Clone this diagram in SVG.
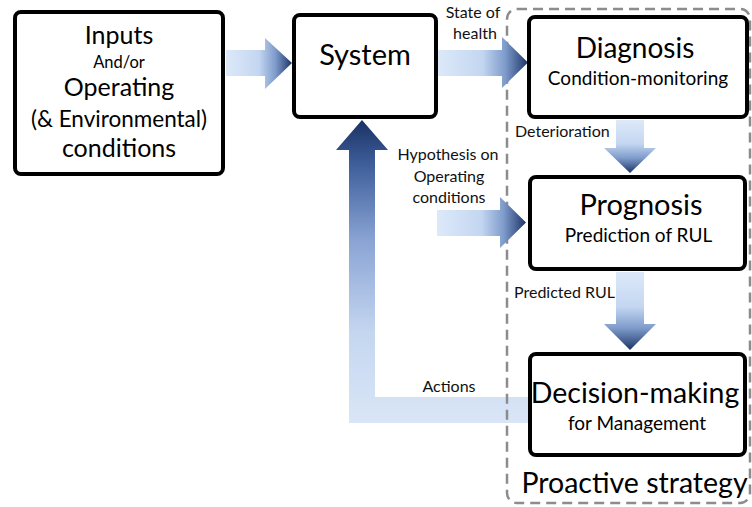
<svg xmlns="http://www.w3.org/2000/svg" width="752" height="507" viewBox="0 0 752 507">
<style>
.box{fill:#fff;stroke:#000;stroke-width:4}
.t{font-family:Lato,"Liberation Sans",sans-serif;fill:#000;text-anchor:middle}
.lbl{font-family:Lato,"Liberation Sans",sans-serif;fill:#111;font-size:16px}
.frame{fill:none;stroke:#8c8c8c;stroke-width:2.5;stroke-dasharray:10 6}
</style>
<defs>
<linearGradient id="gh" x1="0" y1="0" x2="1" y2="0">
<stop offset="0" stop-color="#dde9f9"/>
<stop offset="0.5" stop-color="#c3d6f1"/>
<stop offset="0.75" stop-color="#7e9bcb"/>
<stop offset="1" stop-color="#1c3466"/>
</linearGradient>
<linearGradient id="gv" x1="0" y1="0" x2="0" y2="1">
<stop offset="0" stop-color="#dde9f9"/>
<stop offset="0.45" stop-color="#c3d6f1"/>
<stop offset="0.72" stop-color="#7e9bcb"/>
<stop offset="1" stop-color="#1c3466"/>
</linearGradient>
<linearGradient id="gup" gradientUnits="userSpaceOnUse" x1="0" y1="423" x2="0" y2="120">
<stop offset="0" stop-color="#dae6f7"/>
<stop offset="0.3" stop-color="#c4d6f0"/>
<stop offset="0.6" stop-color="#8aa4d4"/>
<stop offset="0.85" stop-color="#3f5f9c"/>
<stop offset="1" stop-color="#1a3263"/>
</linearGradient>
</defs>

<g id="connectors">
<polygon id="c-actions" fill="url(#gup)" points="529,397 375,397 375,150 388,150 362,120 336,150 349,150 349,423 529,423"/>
</g>

<g id="proactive">
<rect class="frame" x="507" y="9" width="243" height="494" rx="10"/>
<text class="t" x="634.5" y="493" font-size="28.5">Proactive strategy</text>
</g>

<g id="connectors2">
<polygon id="c-in-sys" fill="url(#gh)" points="226,50 265,50 265,38 292,63 265,89 265,76 226,76"/>
<polygon id="c-sys-diag" fill="url(#gh)" points="437,50 502,50 502,37 528,62.5 502,88 502,76 437,76"/>
<polygon id="c-hyp-prog" fill="url(#gh)" points="437,210 500,210 500,197 526,222.5 500,248 500,236 437,236"/>
<polygon id="c-diag-prog" fill="url(#gv)" points="616,120 644,120 644,148 656,148 630,173 604,148 616,148"/>
<polygon id="c-prog-dec" fill="url(#gv)" points="616,272 644,272 644,324 656,324 630,350 604,324 616,324"/>
<text class="lbl" x="473" y="18" text-anchor="middle">State of</text>
<text class="lbl" x="475" y="39" text-anchor="middle">health</text>
<text class="lbl" x="515" y="137">Deterioration</text>
<text class="lbl" x="448" y="160" text-anchor="middle">Hypothesis on</text>
<text class="lbl" x="449" y="182" text-anchor="middle">Operating</text>
<text class="lbl" x="449" y="203" text-anchor="middle">conditions</text>
<text class="lbl" x="514" y="298">Predicted RUL</text>
<text class="lbl" x="449" y="392" text-anchor="middle">Actions</text>
</g>

<g id="inputs">
<rect class="box" x="15" y="12" width="208" height="162" rx="6"/>
<text class="t" x="119" y="44" font-size="25">Inputs</text>
<text class="t" x="119" y="68" font-size="16.5">And/or</text>
<text class="t" x="119" y="96" font-size="25">Operating</text>
<text class="t" x="119" y="127" font-size="22.5">(&amp; Environmental)</text>
<text class="t" x="119" y="157" font-size="25">conditions</text>
</g>

<g id="system">
<rect class="box" x="294" y="15" width="142" height="102" rx="6"/>
<text class="t" x="365" y="65" font-size="29">System</text>
</g>

<g id="diagnosis">
<rect class="box" x="529" y="17" width="218" height="100" rx="6"/>
<text class="t" x="635" y="58" font-size="28">Diagnosis</text>
<text class="t" x="638" y="85" font-size="19">Condition-monitoring</text>
</g>

<g id="prognosis">
<rect class="box" x="530" y="177" width="215" height="92" rx="6"/>
<text class="t" x="641" y="215" font-size="29">Prognosis</text>
<text class="t" x="638.5" y="242" font-size="19">Prediction of RUL</text>
</g>

<g id="decision">
<rect class="box" x="530" y="354" width="215" height="101" rx="6"/>
<text class="t" x="635" y="403" font-size="28.5">Decision-making</text>
<text class="t" x="637" y="430" font-size="19">for Management</text>
</g>
</svg>
